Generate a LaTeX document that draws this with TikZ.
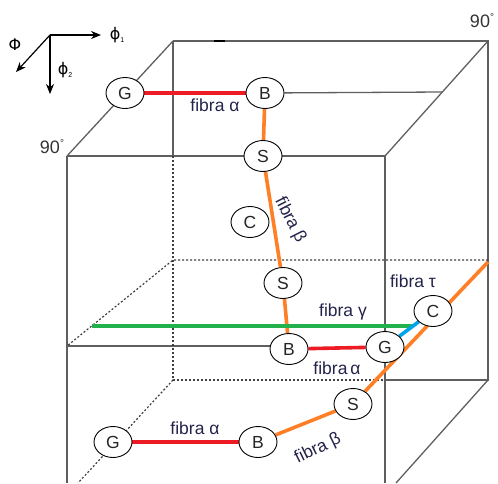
\documentclass[tikz,border=0pt]{standalone}
\usepackage{fontspec}
\setmainfont{Liberation Sans}
\newfontfamily\dejavu{DejaVu Sans}
\usetikzlibrary{shapes.geometric,arrows.meta,backgrounds}

\definecolor{edgegray}{RGB}{95,95,95}
\definecolor{fred}{RGB}{237,28,36}
\definecolor{forange}{RGB}{255,127,39}
\definecolor{fgreen}{RGB}{34,177,76}
\definecolor{fblue}{RGB}{0,162,232}
\definecolor{labelc}{RGB}{35,35,75}

\begin{document}
\begin{tikzpicture}[x=1pt,y=-1pt,
  grain/.style={ellipse,draw=black,line width=0.9pt,fill=white,minimum width=38pt,minimum height=31pt,inner sep=0pt,font=\fontsize{17.5}{19}\selectfont,text=black!85},
  edge/.style={draw=edgegray,line width=1.3pt},
  hidden/.style={draw=black!75,line width=1.2pt,dash pattern=on 2pt off 2pt},
  fib/.style={line width=3.6pt},
  lab/.style={font=\fontsize{17.5}{19}\selectfont,text=labelc,inner sep=0.5pt},
  deg/.style={font=\fontsize{18}{19}\selectfont,text=black!80,inner sep=0pt},
  axlab/.style={font=\fontsize{16}{17}\selectfont,text=black,inner sep=0pt},
  axarrow/.style={draw=black,line width=1.2pt,-{Stealth[length=10pt,width=8pt]}}]

\useasboundingbox (0,0) rectangle (498,483);

% grains
\node[grain] (G1) at (125,93) {G};
\node[grain] (B1) at (265,93) {B};
\node[grain] (S1) at (263,156) {S};
\node[grain] (C1) at (250,222) {C};
\node[grain] (S2) at (283,283) {S};
\node[grain] (B2) at (289,349) {B};
\node[grain] (G2) at (385,347) {G};
\node[grain] (C2) at (433,311) {C};
\node[grain] (G3) at (113,442) {G};
\node[grain] (B3) at (258,442) {B};
\node[grain] (S3) at (353,404) {S};

% cube corners and helper points
\coordinate (bTL) at (173,41);
\coordinate (bTR) at (488,41);
\coordinate (bBR) at (488,380);
\coordinate (bBL) at (173,380);
\coordinate (bLmid) at (173,156);
\coordinate (bBmid) at (385,380);
\coordinate (fTL) at (67,156);
\coordinate (fTR) at (385,156);
\coordinate (fLend) at (67,483);
\coordinate (fRend) at (385,483);
\coordinate (dBL) at (78,483);
\coordinate (dBR) at (396,483);
\coordinate (topR) at (442,92);
\coordinate (mBL) at (173,260);
\coordinate (mBR) at (488,260);
\coordinate (mFL) at (67,346);
\coordinate (mFB) at (270,346);
\coordinate (oR) at (488,262);
\coordinate (gL) at (92,326);
\coordinate (gR) at (412,326);
\coordinate (tk1) at (214,41);
\coordinate (tk2) at (225,41);

\begin{scope}[on background layer]
  % visible cube edges
  \draw[edge] (bTL) -- (bTR) -- (bBR) -- (bBmid);
  \draw[edge] (bTL) -- (bLmid);
  \draw[edge] (bTL) -- (fTL);
  \draw[edge] (bTR) -- (fTR);
  \draw[edge] (fTL) -- (fTR);
  \draw[edge] (fTL) -- (fLend);
  \draw[edge] (fTR) -- (fRend);
  \draw[edge] (bBR) -- (dBR);
  \draw[edge] (B1) -- (topR);
  \draw[edge] (mFL) -- (mFB);
  \draw[black,line width=2.4pt] (tk1) -- (tk2);
  % hidden edges
  \draw[hidden] (bLmid) -- (bBL) -- (bBmid);
  \draw[hidden] (bBL) -- (dBL);
  \draw[hidden] (mBR) -- (mBL) -- (mFL);
  % fibres
  \draw[fib,fred] (G1) -- (B1);
  \draw[fib,forange] (B1) -- (S1);
  \draw[fib,forange] (S1) -- (S2);
  \draw[fib,forange] (S2) -- (B2);
  \draw[fib,fred] (B2) -- (G2);
  \draw[fib,fgreen] (gL) -- (gR);
  \draw[fib,fblue] (G2) -- (C2);
  \draw[fib,forange] (oR) -- (S3);
  \draw[fib,forange] (S3) -- (B3);
  \draw[fib,fred] (G3) -- (B3);
\end{scope}

% fibre labels
\node[lab] (la1) at (215,105) {fibra α};
\node[lab,rotate=-63] (lb1) at (290,220) {fibra β};
\node[lab] (lg) at (343,312) {fibra γ};
\node[lab] (lt) at (413,281) {fibra τ};
\node[lab] (la2) at (337,368) {fibra\,α};
\node[lab] (la3) at (195,428) {fibra α};
\node[lab,rotate=26] (lb3) at (318,449) {fibra β};

% 90 degree labels
\node[deg] (d1) at (52,147) {90\raisebox{7pt}{\fontsize{10}{10}\selectfont °}};
\node[deg] (d2) at (482,21) {90\raisebox{7pt}{\fontsize{10}{10}\selectfont °}};

% axes
\coordinate (O) at (50,35);
\coordinate (A1) at (101,35);
\coordinate (A2) at (50,94);
\coordinate (A3) at (16,72);
\draw[axarrow] (O) -- (A1);
\draw[axarrow] (O) -- (A2);
\draw[axarrow] (O) -- (A3);
\node[axlab] (p1) at (117,35) {{\dejavu ϕ}\raisebox{-3pt}{\fontsize{7}{7}\selectfont 1}};
\node[axlab] (p2) at (65,70) {{\dejavu ϕ}\raisebox{-3pt}{\fontsize{7}{7}\selectfont 2}};
\node[axlab] (P) at (15,45) {{\dejavu Φ}};
\end{tikzpicture}
\end{document}
